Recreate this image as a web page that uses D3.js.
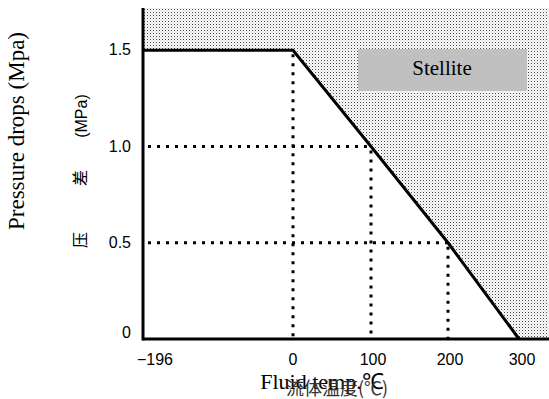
<!DOCTYPE html>
<html><head><meta charset="utf-8">
<script src="https://cdn.jsdelivr.net/npm/d3@7"></script>
<style>body{margin:0;background:#fff}svg{display:block}</style>
</head><body>
<svg id="c" width="549" height="399"></svg>
<script>
// Data
const xTickValues = [-196, 0, 100, 200, 300];
const xTickLabels = ["\u2212196", "0", "100", "200", "300"];
const yTickValues = [0, 0.5, 1.0, 1.5];
const yTickLabels = ["0", "0.5", "1.0", "1.5"];
const limitTemp = [-196, 0, 100, 200, 300];
const limitPressure = [1.5, 1.5, 1.0, 0.5, 0];
const guideTemp = [0, 100, 200];
const guidePressure = [1.5, 1.0, 0.5];
const regionLabel = "Stellite";
const yTitle = "Pressure drops (Mpa)";
const yTitleCNParts = ["压", "差", "(MPa)"];
const xTitle = "Fluid temp.\u2103";
const xTitleCN = "流体温度(\u2103)";

const svg = d3.select("#c");
const x = d3.scaleLinear().domain([-196, 0, 100, 200, 300, 340]).range([143, 293, 371, 448, 519, 549]);
const y = d3.scaleLinear().domain([0, 1.72]).range([339, 8]);

// pattern
const defs = svg.append("defs");
const pat = defs.append("pattern").attr("id","dots").attr("patternUnits","userSpaceOnUse").attr("width",3).attr("height",3);
pat.append("rect").attr("x",0).attr("y",0).attr("width",3).attr("height",3).attr("fill","#fff");
pat.append("rect").attr("x",0).attr("y",0).attr("width",1).attr("height",1).attr("fill","#444");
pat.append("rect").attr("x",1.5).attr("y",1.5).attr("width",1).attr("height",1).attr("fill","#aaa");

// shaded region above the limit line
const pts = limitTemp.map((t,i)=>[x(t), y(limitPressure[i])]);
const region = [[x(-196), y(1.72)], [x(340), y(1.72)], [x(340), y(0)]]
  .concat(pts.slice().reverse());
svg.append("path").attr("d", d3.line()(region)).attr("fill","url(#dots)");

// Stellite label box
svg.append("rect").attr("x", 358).attr("y", 49).attr("width", 169).attr("height", 42).attr("fill","#c0c0c0");
svg.append("text").attr("x", 442).attr("y", 75).attr("text-anchor","middle")
  .attr("font-family","Liberation Serif, Times New Roman, serif").attr("font-size",21).text(regionLabel);

// dotted guides
const dot = g => g.attr("stroke","#000").attr("stroke-width",3).attr("stroke-dasharray","3,6").attr("fill","none");
guideTemp.forEach((t,i)=>{
  svg.append("line").attr("x1",x(t)).attr("x2",x(t)).attr("y1",y(guidePressure[i])+4).attr("y2",y(0)).call(dot);
  if (guidePressure[i] < 1.5)
    svg.append("line").attr("x1",x(-196)+5).attr("x2",x(t)).attr("y1",y(guidePressure[i])).attr("y2",y(guidePressure[i])).call(dot);
});

// limit line
svg.append("path").attr("d", d3.line()(pts)).attr("fill","none").attr("stroke","#000").attr("stroke-width",3);

// axes
svg.append("line").attr("x1",x(-196)).attr("x2",x(-196)).attr("y1",y(1.72)).attr("y2",y(0)+1.5).attr("stroke","#000").attr("stroke-width",3);
svg.append("line").attr("x1",x(-196)).attr("x2",549).attr("y1",y(0)).attr("y2",y(0)).attr("stroke","#000").attr("stroke-width",3);

// tick labels
svg.selectAll(".xt").data(xTickValues).enter().append("text")
  .attr("x", (d,i)=> i===0 ? 155 : x(d)+ (d===300?3:(d===0?0:2))).attr("y", 365).attr("text-anchor","middle")
  .attr("font-family","Liberation Sans, Arial, sans-serif").attr("font-size",16).text((d,i)=>xTickLabels[i]);
svg.selectAll(".yt").data(yTickValues).enter().append("text")
  .attr("x", 131).attr("y", d=> d===0 ? y(d)-1 : y(d)+5).attr("text-anchor","end")
  .attr("font-family","Liberation Sans, Arial, sans-serif").attr("font-size",16).text((d,i)=>yTickLabels[i]);

// titles
svg.append("text").attr("transform","translate(24,131) rotate(-90)").attr("text-anchor","middle")
  .attr("font-family","Liberation Serif, Times New Roman, serif").attr("font-size",23).text(yTitle);
const cnY = [240, 178, 116];
yTitleCNParts.forEach((s,i)=>{
  svg.append("text").attr("transform",`translate(${i===2?87:86},${cnY[i]}) rotate(-90)`).attr("text-anchor","middle")
    .attr("font-family", i===2 ? "Liberation Sans, Arial, sans-serif" : "Noto Sans CJK SC, sans-serif")
    .attr("font-size", i===2 ? 16 : 16).text(s);
});
svg.append("text").attr("x", 322).attr("y", 389).attr("text-anchor","middle")
  .attr("font-family","Liberation Serif, Times New Roman, serif").attr("font-size",22).text(xTitle);
svg.append("text").attr("x", 337).attr("y", 395).attr("text-anchor","middle")
  .attr("font-family","Noto Sans CJK SC, sans-serif").attr("font-size",18).attr("fill","#333").text(xTitleCN);
</script>
</body></html>
